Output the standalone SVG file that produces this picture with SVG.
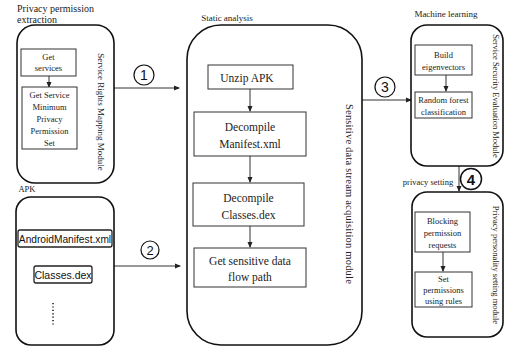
<svg xmlns="http://www.w3.org/2000/svg" width="505" height="349" viewBox="0 0 505 349">
<defs>
<marker id="ah" markerWidth="6" markerHeight="6" refX="5" refY="3" orient="auto" markerUnits="userSpaceOnUse">
<path d="M0,0.5 L6,3 L0,5.5 Z" fill="#222"/>
</marker>
<style>
.c{fill:none;stroke:#111;stroke-width:1.6}
.b{fill:#fff;stroke:#333;stroke-width:1}
.t{font-family:"Liberation Serif",serif;fill:#222;text-anchor:middle}
.ts{font-family:"Liberation Serif",serif;fill:#222;text-anchor:start}
.s{font-family:"Liberation Sans","Open Sans",sans-serif;fill:#111;text-anchor:middle}
.l{fill:none;stroke:#333;stroke-width:1}
</style>
</defs>
<rect width="505" height="349" fill="#fff"/>

<g id="connectors">
<line class="l" x1="114" y1="88" x2="179" y2="88" marker-end="url(#ah)"/>
<line class="l" x1="114" y1="266" x2="180" y2="266" marker-end="url(#ah)"/>
<line class="l" x1="362" y1="100" x2="411" y2="100" marker-end="url(#ah)"/>
<line class="l" x1="459" y1="166" x2="459" y2="191" marker-end="url(#ah)"/>
<line class="l" x1="49" y1="76" x2="49" y2="87" marker-end="url(#ah)"/>
<line class="l" x1="250" y1="89" x2="250" y2="111" marker-end="url(#ah)"/>
<line class="l" x1="250" y1="156" x2="250" y2="182" marker-end="url(#ah)"/>
<line class="l" x1="250" y1="226" x2="250" y2="247" marker-end="url(#ah)"/>
<line class="l" x1="446" y1="75" x2="446" y2="91" marker-end="url(#ah)"/>
<line class="l" x1="443" y1="252" x2="443" y2="271" marker-end="url(#ah)"/>
<circle cx="144" cy="75" r="10" fill="none" stroke="#111" stroke-width="1.2"/>
<text class="s" x="144" y="80" font-size="14">1</text>
<circle cx="150" cy="250" r="9" fill="none" stroke="#111" stroke-width="1.2"/>
<text class="s" x="150" y="255" font-size="13">2</text>
<circle cx="385" cy="87" r="10" fill="none" stroke="#111" stroke-width="1.2"/>
<text class="s" x="385" y="92" font-size="14">3</text>
<circle cx="471" cy="179" r="10.5" fill="none" stroke="#111" stroke-width="1.5"/>
<text class="s" x="471" y="184.5" font-size="15" font-weight="bold">4</text>
<text class="t" x="428" y="185" font-size="8.5">privacy setting</text>
</g>

<g id="privacy-extraction">
<text class="ts" x="17" y="12" font-size="10">Privacy permission</text>
<text class="ts" x="17" y="23" font-size="10">extraction</text>
<rect class="c" x="17" y="25" width="97" height="158" rx="18"/>
<text class="t" font-size="9" transform="translate(98,112) rotate(90)">Service Rights Mapping Module</text>
</g>
<g id="get-services">
<rect class="b" x="21" y="49" width="55" height="27"/>
<text class="t" x="48.5" y="60" font-size="8.5">Get</text>
<text class="t" x="48.5" y="71" font-size="8.5">services</text>
</g>
<g id="get-min-set">
<rect class="b" x="22" y="87" width="55" height="62"/>
<text class="t" x="49.5" y="98" font-size="8.5">Get Service</text>
<text class="t" x="49.5" y="110" font-size="8.5">Minimum</text>
<text class="t" x="49.5" y="122" font-size="8.5">Privacy</text>
<text class="t" x="49.5" y="134" font-size="8.5">Permission</text>
<text class="t" x="49.5" y="146" font-size="8.5">Set</text>
</g>

<g id="apk">
<text class="t" x="27" y="192" font-size="8.5">APK</text>
<rect class="c" x="16" y="197" width="98" height="148" rx="15"/>
<rect fill="#fff" stroke="#222" stroke-width="1.3" x="18" y="230" width="94" height="17" rx="2"/>
<text class="s" x="65" y="242.5" font-size="10.2">AndroidManifest.xml</text>
<rect fill="#fff" stroke="#222" stroke-width="1.3" x="34" y="266" width="58" height="17" rx="2"/>
<text class="s" x="63" y="278.5" font-size="10.5">Classes.dex</text>
<line x1="53" y1="303" x2="53" y2="325" stroke="#222" stroke-width="1.6" stroke-dasharray="1.2,2.2"/>
</g>

<g id="static-analysis">
<text class="t" x="227" y="21" font-size="9">Static analysis</text>
<rect class="c" x="187" y="25" width="175" height="320" rx="34"/>
<text class="t" font-size="10.5" transform="translate(346,194) rotate(90)" letter-spacing="0.2">Sensitive  data stream acquisition module</text>
</g>
<g id="unzip">
<rect class="b" x="208" y="65" width="85" height="24"/>
<text class="t" x="247" y="81.5" font-size="11.5">Unzip APK</text>
</g>
<g id="decompile-manifest">
<rect class="b" x="194" y="112" width="112" height="44"/>
<text class="t" x="250" y="131" font-size="11.5">Decompile</text>
<text class="t" x="250" y="148" font-size="11.5">Manifest.xml</text>
</g>
<g id="decompile-classes">
<rect class="b" x="193" y="183" width="111" height="43"/>
<text class="t" x="248.5" y="202" font-size="11.5">Decompile</text>
<text class="t" x="248.5" y="219" font-size="11.5">Classes.dex</text>
</g>
<g id="sensitive-path">
<rect class="b" x="194" y="248" width="112" height="39"/>
<text class="t" x="250" y="265" font-size="11.5">Get sensitive data</text>
<text class="t" x="250" y="281" font-size="11.5">flow path</text>
</g>

<g id="machine-learning">
<text class="t" x="446" y="17" font-size="9">Machine learning</text>
<rect class="c" x="411" y="25" width="92" height="141" rx="16"/>
<text class="t" font-size="8.5" transform="translate(493,96) rotate(90)">Service Security Evaluation Module</text>
</g>
<g id="eigenvectors">
<rect class="b" x="415" y="45" width="57" height="30"/>
<text class="t" x="443.5" y="57.5" font-size="8.5">Build</text>
<text class="t" x="443.5" y="69.5" font-size="8.5">eigenvectors</text>
</g>
<g id="random-forest">
<rect class="b" x="415" y="92" width="57" height="26"/>
<text class="t" x="443.5" y="103" font-size="8.5">Random forest</text>
<text class="t" x="443.5" y="114.5" font-size="8.5">classification</text>
</g>

<g id="privacy-setting">
<rect class="c" x="412" y="192" width="91" height="145" rx="15"/>
<text class="t" font-size="8.5" transform="translate(493,265) rotate(90)">Privacy personality setting module</text>
</g>
<g id="blocking">
<rect class="b" x="415" y="212" width="55" height="40"/>
<text class="t" x="442.5" y="224" font-size="8.5">Blocking</text>
<text class="t" x="442.5" y="236" font-size="8.5">permission</text>
<text class="t" x="442.5" y="248" font-size="8.5">requests</text>
</g>
<g id="set-permissions">
<rect class="b" x="415" y="272" width="57" height="35"/>
<text class="t" x="443.5" y="282" font-size="8.5">Set</text>
<text class="t" x="443.5" y="293" font-size="8.5">permissions</text>
<text class="t" x="443.5" y="304" font-size="8.5">using rules</text>
</g>
</svg>
